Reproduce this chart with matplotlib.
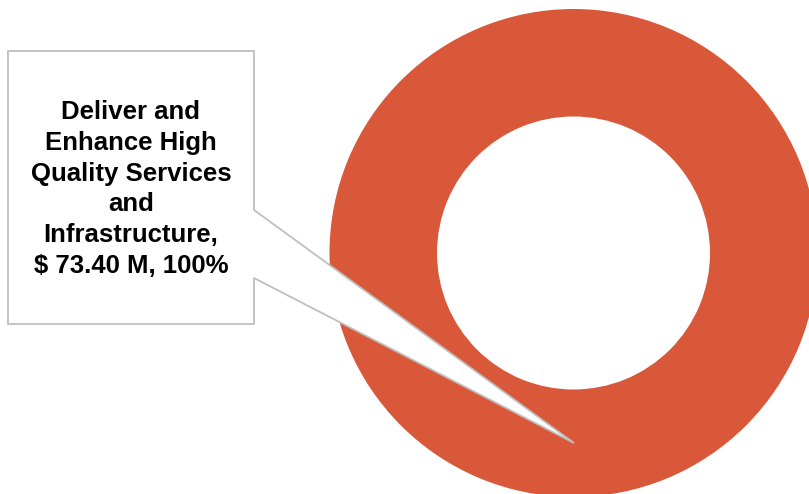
import matplotlib
matplotlib.use("Agg")
import matplotlib.pyplot as plt
from matplotlib.patches import Polygon

# Data
categories = ["Deliver and Enhance High Quality Services and Infrastructure"]
values = [73.40]
label_lines = ["Deliver and", "Enhance High", "Quality Services", "and", "Infrastructure,"]
colors = ["#D9583A"]

W, H = 809, 494
fig = plt.figure(figsize=(W / 100, H / 100), dpi=100)
ax = fig.add_axes([0, 0, 1, 1])

total = sum(values)
outer_r = 244
inner_r = 136.5
ax.pie(values, colors=colors, radius=outer_r, center=(573.5, 253),
       startangle=90, counterclock=False,
       wedgeprops=dict(width=outer_r - inner_r, edgecolor="none", linewidth=0))

ax.set_xlim(0, W)
ax.set_ylim(H, 0)
ax.set_aspect("equal")
ax.axis("off")

# Callout box with pointer
callout = Polygon([(8, 51), (254, 51), (254, 210), (574, 443), (254, 278), (254, 324), (8, 324)],
                  closed=True, facecolor="white", edgecolor="#BFBFBF", linewidth=1.3,
                  joinstyle="miter", zorder=5)
ax.add_patch(callout)

pct = values[0] / total * 100
label = "\n".join(label_lines + [f"$ {values[0]:.2f} M, {pct:.0f}%"])
ax.text(131, 189, label, ha="center", va="center", fontsize=18.5, fontweight="bold",
        family=["Liberation Sans", "DejaVu Sans"], color="black", linespacing=1.36, zorder=6)

fig.savefig("out.png", dpi=100)
